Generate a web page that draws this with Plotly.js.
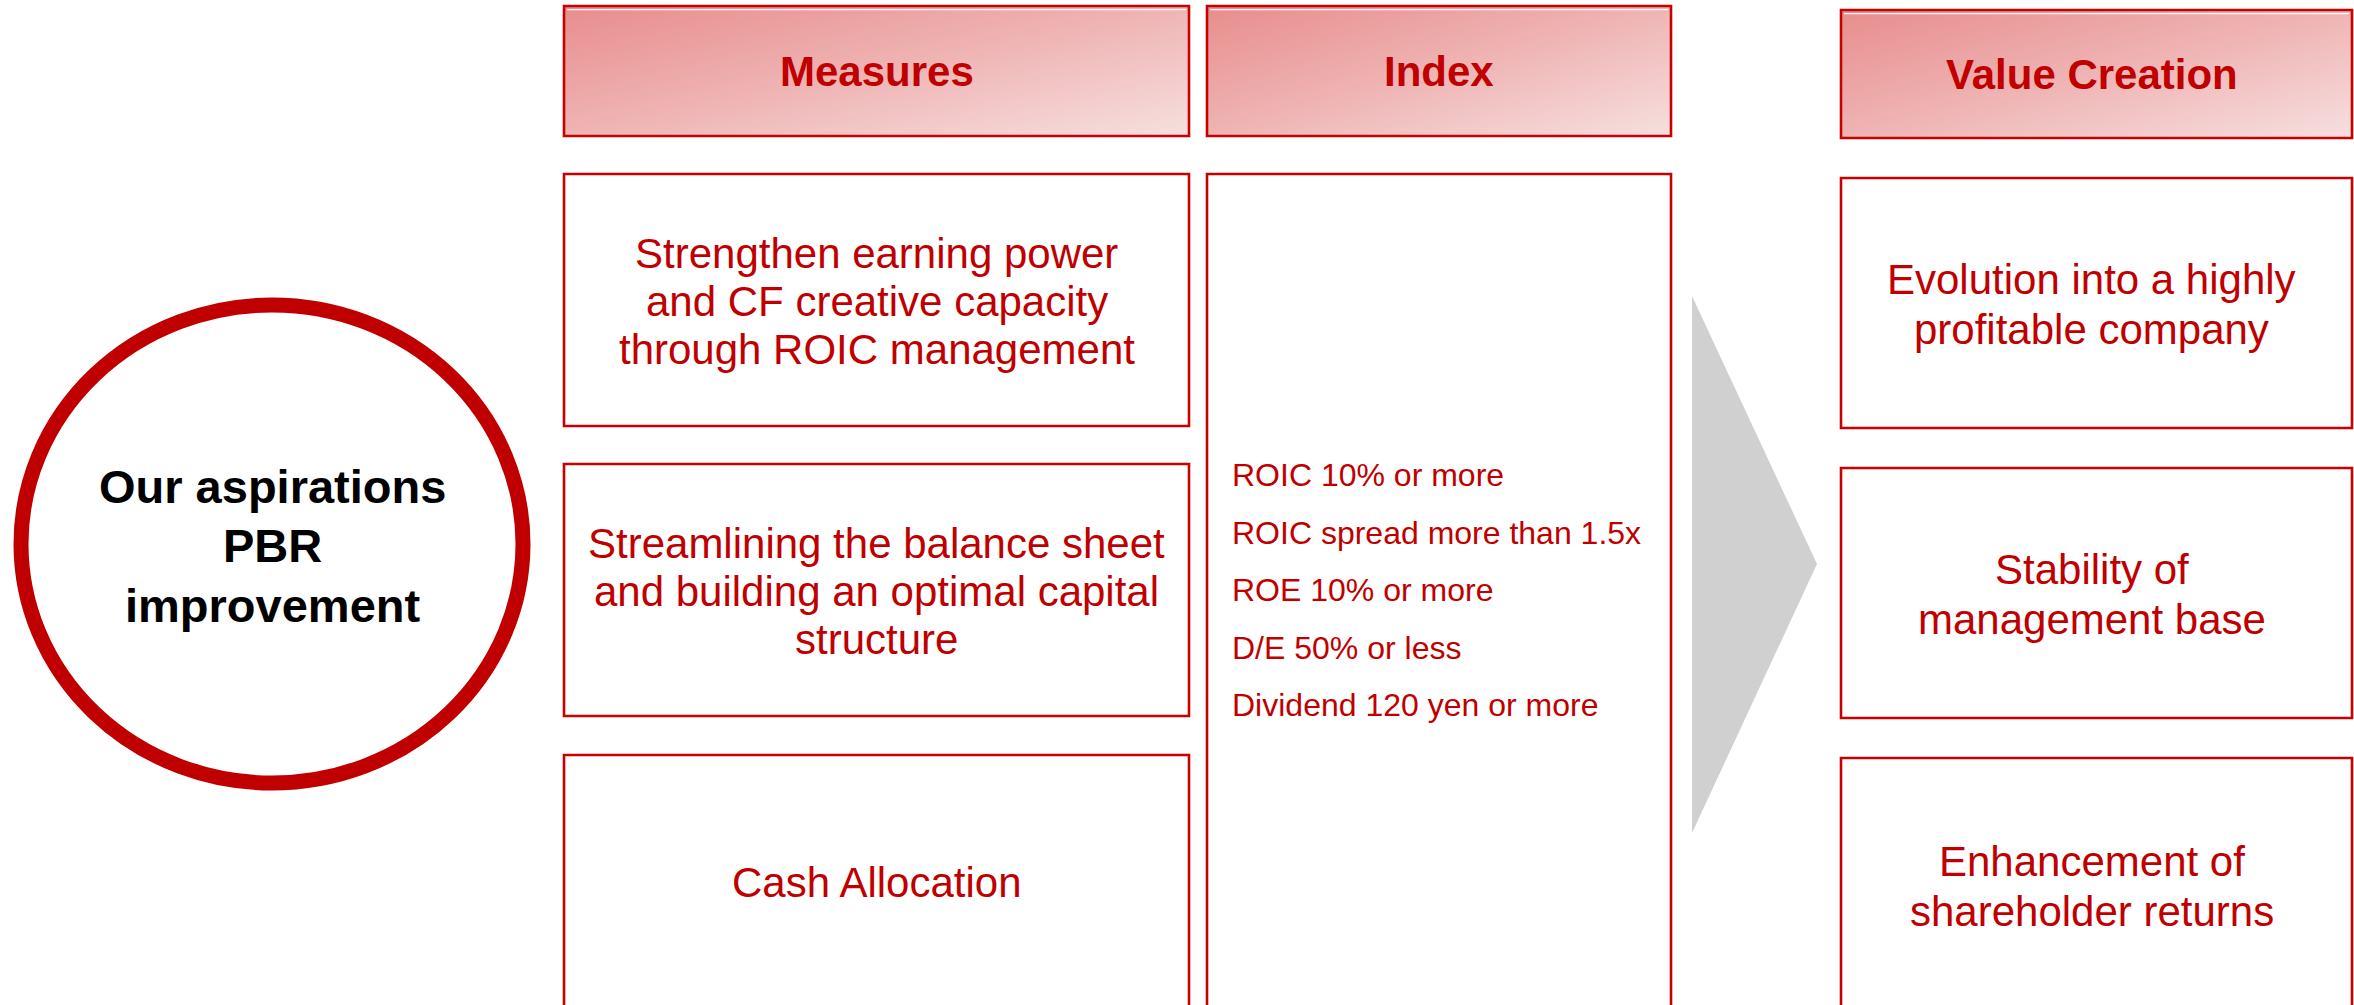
<!DOCTYPE html>
<html>
<head>
<meta charset="utf-8">
<script src="https://cdn.plot.ly/plotly-3.0.1.min.js"></script>
<style>html,body{margin:0;padding:0;background:#fff;}#chart{width:2354px;height:1005px;}</style>
</head>
<body>
<div id="chart"></div>
<script>
// ---- content ----
const aspirationLines = ['Our aspirations', 'PBR', 'improvement'];
const headers = ['Measures', 'Index', 'Value Creation'];
const measures = [
  ['Strengthen earning power', 'and CF creative capacity', 'through ROIC management'],
  ['Streamlining the balance sheet', 'and building an optimal capital', 'structure'],
  ['Cash Allocation']
];
const indexTargets = [
  'ROIC 10% or more',
  'ROIC spread more than 1.5x',
  'ROE 10% or more',
  'D/E 50% or less',
  'Dividend 120 yen or more'
];
const valueCreation = [
  ['Evolution into a highly', 'profitable company'],
  ['Stability of', 'management base'],
  ['Enhancement of', 'shareholder returns']
];

// ---- layout geometry (pixel space of the 2354x1005 canvas) ----
const W = 2354, H = 1005;
const RED = '#c80000', TXT = '#c00000';
const FONT = 'Liberation Sans, Arial, Helvetica, sans-serif';
const cols = {
  measures: [564, 1189],
  index: [1207, 1671],
  value: [1841, 2352]
};
const headerY = [[6, 136], [6, 136], [10, 138]];
const measureRows = [[174, 426], [464, 716], [755, 1008]];
const valueRows = [[178, 428], [468, 718], [758, 1012]];
const indexBox = [174, 1010];

const shapes = [];
const annotations = [];
const images = [];

function gradientURI() {
  const svg = "<svg xmlns='http://www.w3.org/2000/svg' width='200' height='100' viewBox='0 0 200 100' preserveAspectRatio='none'>" +
    "<defs><linearGradient id='g' x1='0' y1='0' x2='1' y2='1'>" +
    "<stop offset='0' stop-color='#e88d8d'/><stop offset='0.5' stop-color='#efb4b4'/><stop offset='1' stop-color='#f7dfdf'/>" +
    "</linearGradient></defs><rect x='0' y='0' width='200' height='100' fill='url(#g)'/></svg>";
  return 'data:image/svg+xml;charset=utf-8,' + encodeURIComponent(svg);
}
const GRAD = gradientURI();

function rect(x0, x1, y0, y1, width) {
  shapes.push({type: 'rect', xref: 'x', yref: 'y', x0: x0, x1: x1, y0: y0, y1: y1,
    line: {color: RED, width: width || 2.5}, fillcolor: 'rgba(0,0,0,0)', layer: 'above'});
}
function textLines(lines, cx, cy, spacing, opts) {
  const n = lines.length;
  lines.forEach((t, i) => {
    annotations.push(Object.assign({
      x: cx, y: cy + (i - (n - 1) / 2) * spacing, xref: 'x', yref: 'y',
      text: t, showarrow: false, xanchor: 'center', yanchor: 'middle',
      font: {family: FONT, size: 42, color: TXT}
    }, opts || {}));
  });
}

// headers
const colList = [cols.measures, cols.index, cols.value];
headers.forEach((h, i) => {
  const [x0, x1] = colList[i];
  const [y0, y1] = headerY[i];
  images.push({source: GRAD, xref: 'paper', yref: 'paper',
    x: x0 / W, y: 1 - y0 / H, sizex: (x1 - x0) / W, sizey: (y1 - y0) / H,
    xanchor: 'left', yanchor: 'top', sizing: 'stretch', layer: 'below'});
  shapes.push({type: 'line', xref: 'x', yref: 'y', x0: x0 + 3, x1: x1 - 3, y0: y0 + 3.6, y1: y0 + 3.6,
    line: {color: 'rgba(255,255,255,0.9)', width: 1.4}, layer: 'above'});
  rect(x0, x1, y0, y1, 2.6);
  textLines([h], (x0 + x1) / 2 + (i === 2 ? -5 : 0), (y0 + y1) / 2, 48,
    {font: {family: FONT, size: 42, color: TXT, weight: 'bold'}, text: '<b>' + h + '</b>'});
});

// measures boxes
measures.forEach((lines, i) => {
  const [y0, y1] = measureRows[i];
  rect(cols.measures[0], cols.measures[1], y0, y1, 2.6);
  textLines(lines, (cols.measures[0] + cols.measures[1]) / 2, (y0 + y1) / 2 + 1, 48);
});

// index box
rect(cols.index[0], cols.index[1], indexBox[0], indexBox[1], 2.6);
indexTargets.forEach((t, i) => {
  annotations.push({x: cols.index[0] + 23, y: 475 + i * 57.5, xref: 'x', yref: 'y',
    text: t, showarrow: false, xanchor: 'left', yanchor: 'middle',
    font: {family: FONT, size: 32, color: TXT}});
});

// arrow (grey triangle)
shapes.push({type: 'path', xref: 'x', yref: 'y', path: 'M 1692 296 L 1817 564 L 1692 833 Z',
  fillcolor: '#d0d0d0', line: {width: 0}, layer: 'above'});

// value creation boxes
valueCreation.forEach((lines, i) => {
  const [y0, y1] = valueRows[i];
  rect(cols.value[0], cols.value[1], y0, y1, 2.6);
  textLines(lines, (cols.value[0] + cols.value[1]) / 2 - 5, (y0 + y1) / 2 + 1, 50);
});

// aspiration ring
shapes.push({type: 'circle', xref: 'x', yref: 'y', x0: 21, x1: 523, y0: 305, y1: 783,
  line: {color: '#c00000', width: 15}, fillcolor: 'rgba(0,0,0,0)', layer: 'above'});
aspirationLines.forEach((t, i) => {
  annotations.push({x: 272, y: 486 + i * 59.5, xref: 'x', yref: 'y',
    text: '<b>' + t + '</b>', showarrow: false, xanchor: 'center', yanchor: 'middle',
    font: {family: FONT, size: 47, color: '#000000'}});
});

const layout = {
  width: W, height: H,
  margin: {l: 0, r: 0, t: 0, b: 0, pad: 0},
  paper_bgcolor: '#ffffff', plot_bgcolor: 'rgba(0,0,0,0)',
  showlegend: false,
  xaxis: {range: [0, W], visible: false, fixedrange: true},
  yaxis: {range: [H, 0], visible: false, fixedrange: true},
  shapes: shapes, annotations: annotations, images: images
};
Plotly.newPlot('chart', [], layout, {staticPlot: true, displayModeBar: false});
</script>
</body>
</html>
